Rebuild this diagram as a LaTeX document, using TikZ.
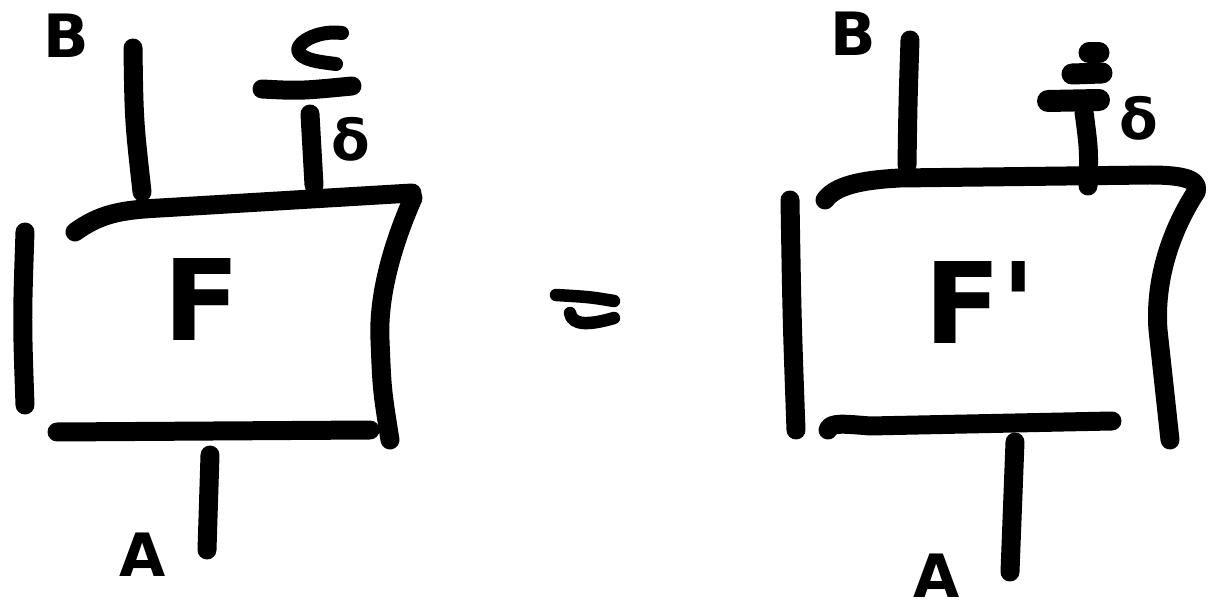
\documentclass[tikz,border=0pt]{standalone}
\usepackage{fontspec}
\newfontfamily\hand{DejaVu Sans}
\begin{document}
\begin{tikzpicture}[x=0.02cm,y=-0.02cm,
  stroke/.style={line width=0.38cm,line cap=round,line join=round},
  thin stroke/.style={line width=0.28cm,line cap=round,line join=round},
  eq stroke/.style={line width=0.25cm,line cap=round,line join=round},
  big label/.style={inner sep=0pt,font=\hand\bfseries\fontsize{64}{64}\selectfont},
  wire label/.style={inner sep=0pt,font=\hand\bfseries\fontsize{34}{34}\selectfont},
  small label/.style={inner sep=0pt,font=\hand\bfseries\fontsize{32}{32}\selectfont}]
\useasboundingbox (0,0) rectangle (1208,611);
% ---------- left diagram ----------
\coordinate (LBt) at (133,48);   \coordinate (LBb) at (142,192);
\coordinate (LTa) at (75,232);   \coordinate (LTb) at (412,193);
\coordinate (LRa) at (413,198);  \coordinate (LRb) at (390,440);
\coordinate (LLa) at (25,232);   \coordinate (LLb) at (25,405);
\coordinate (LBa) at (57,432);   \coordinate (LBz) at (370,430);
\coordinate (LAt) at (210,455);  \coordinate (LAb) at (207,550);
\coordinate (LDt) at (310,114);  \coordinate (LDb) at (314,185);
\coordinate (LGa) at (262,89);   \coordinate (LGb) at (352,86);
\coordinate (LZa) at (342,33);   \coordinate (LZb) at (336,64);
\node[wire label] (Blab) at (66,36) {B};
\node[wire label] (Alab) at (143,555) {A};
\node[small label] (Dlab) at (351,139) {δ};
\node[big label] (Flab) at (202,300) {F};
\draw[stroke] (LBt) .. controls (134,120) .. (LBb);
\draw[stroke] (LTa) .. controls (100,214) and (120,210) .. (160,208) -- (LTb);
\draw[stroke] (LRa) .. controls (390,250) and (378,300) .. (380,340) .. controls (382,390) .. (LRb);
\draw[stroke] (LLa) .. controls (22,320) .. (LLb);
\draw[stroke] (LBa) -- (LBz);
\draw[stroke] (LAt) -- (LAb);
\draw[stroke] (LDt) -- (LDb);
\draw[stroke] (LGa) .. controls (300,91) .. (LGb);
\draw[thin stroke] (LZa) .. controls (318,30) and (298,42) .. (298,50) .. controls (300,60) and (320,62) .. (LZb);
% ---------- equals ----------
\coordinate (E1a) at (556,295); \coordinate (E1b) at (614,301);
\coordinate (E2a) at (570,313); \coordinate (E2b) at (614,318);
\draw[eq stroke] (E1a) .. controls (590,297) .. (E1b);
\draw[eq stroke] (E2a) .. controls (572,326) and (590,325) .. (E2b);
% ---------- right diagram ----------
\coordinate (RBt) at (910,40);   \coordinate (RBb) at (907,165);
\coordinate (RTa) at (825,200);  \coordinate (RTb) at (1196,192);
\coordinate (RRb) at (1170,440);
\coordinate (RLa) at (790,200);  \coordinate (RLb) at (796,430);
\coordinate (RBa) at (828,430);  \coordinate (RBz) at (1112,421);
\coordinate (RAt) at (1015,442); \coordinate (RAb) at (1010,572);
\coordinate (RDt) at (1084,112); \coordinate (RDb) at (1088,186);
\coordinate (RG1a) at (1048,101); \coordinate (RG1b) at (1099,100);
\coordinate (RG2a) at (1072,74);  \coordinate (RG2b) at (1102,73);
\coordinate (RG3a) at (1089,53);  \coordinate (RG3b) at (1099,53);
\node[wire label] (Blab2) at (853,34) {B};
\node[wire label] (Alab2) at (937,576) {A};
\node[small label] (Dlab2) at (1139,118) {δ};
\node[big label] (Flab2) at (980,303) {F'};
\draw[stroke] (RBt) .. controls (908,100) .. (RBb);
\draw[stroke] (RTa) .. controls (835,186) and (860,180) .. (900,178) -- (1150,175) .. controls (1185,175) and (1200,180) .. (RTb);
\draw[stroke] (RTb) .. controls (1165,240) and (1155,290) .. (1158,330) -- (RRb);
\draw[stroke] (RLa) .. controls (792,320) .. (RLb);
\draw[stroke] (RBa) .. controls (830,422) and (845,424) .. (870,426) -- (RBz);
\draw[stroke] (RAt) -- (RAb);
\draw[stroke] (RDt) .. controls (1089,150) .. (RDb);
\draw[line width=0.44cm,line cap=round] (RG1a) -- (RG1b);
\draw[line width=0.42cm,line cap=round] (RG2a) -- (RG2b);
\draw[line width=0.42cm,line cap=round] (RG3a) -- (RG3b);
\end{tikzpicture}
\end{document}
